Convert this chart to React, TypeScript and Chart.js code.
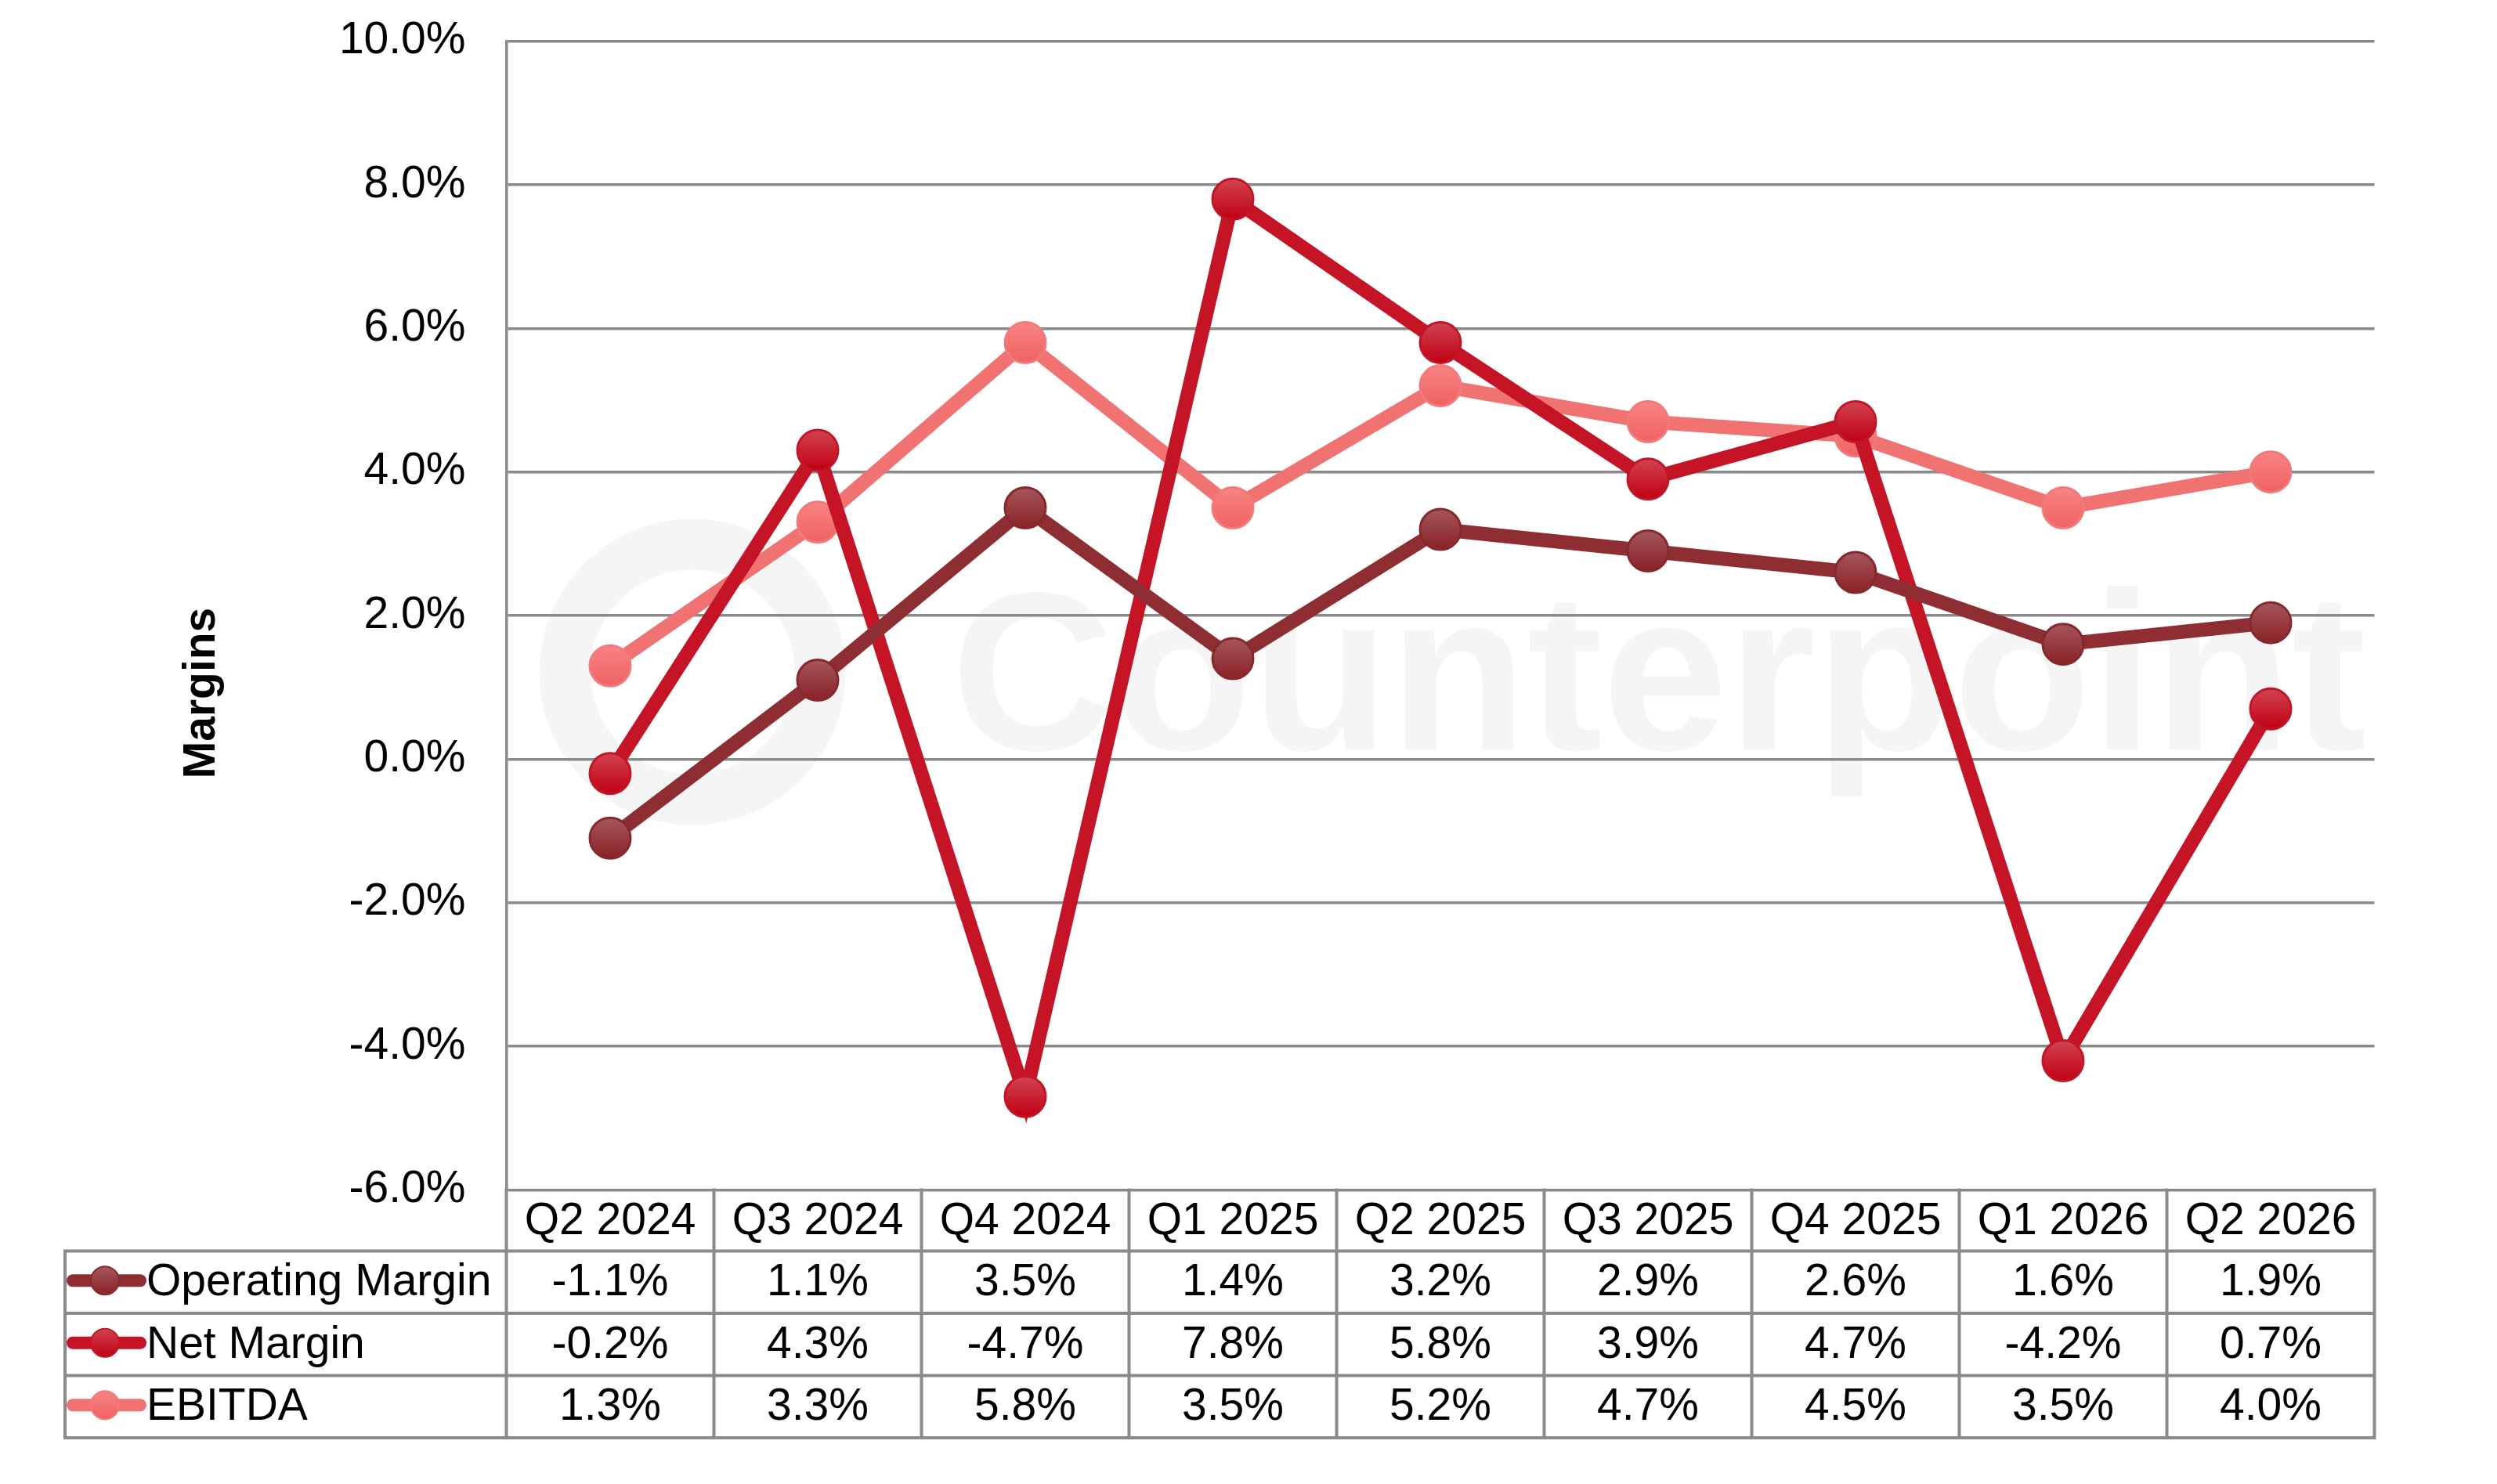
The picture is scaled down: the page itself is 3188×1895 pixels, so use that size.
import { useEffect, useRef } from "react";
import { Chart, ChartConfiguration, Plugin, registerables } from "chart.js";

Chart.register(...registerables);

const quarters = ["Q2 2024", "Q3 2024", "Q4 2024", "Q1 2025", "Q2 2025", "Q3 2025", "Q4 2025", "Q1 2026", "Q2 2026"];
const operatingMargin = [-1.1, 1.1, 3.5, 1.4, 3.2, 2.9, 2.6, 1.6, 1.9];
const netMargin = [-0.2, 4.3, -4.7, 7.8, 5.8, 3.9, 4.7, -4.2, 0.7];
const ebitda = [1.3, 3.3, 5.8, 3.5, 5.2, 4.7, 4.5, 3.5, 4.0];

const seriesNames = ["Operating Margin", "Net Margin", "EBITDA"];
const yMin = -6;
const yMax = 10;
const yStep = 2;

const FONT = "'Liberation Sans', Arial, Helvetica, sans-serif";
const GRID = "#8a8a8a";

// line colour, marker top, marker bottom, marker border
const palette = [
  { line: "#8e2e33", top: "#a4575c", bottom: "#8a2126", border: "#86292e" },
  { line: "#c41426", top: "#d24350", bottom: "#bf0014", border: "#c01628" },
  { line: "#f07271", top: "#f88383", bottom: "#f06262", border: "#f17a7a" },
];

const POINT_R = 26;

function markerFill(c: CanvasRenderingContext2D, y: number, r: number, p: (typeof palette)[number]) {
  if (!Number.isFinite(y)) return p.bottom;
  const g = c.createLinearGradient(0, y - r, 0, y + r);
  g.addColorStop(0, p.top);
  g.addColorStop(1, p.bottom);
  return g;
}

const watermark: Plugin<"line"> = {
  id: "watermark",
  beforeDraw(chart) {
    const c = chart.ctx;
    c.save();
    c.strokeStyle = "#f5f5f5";
    c.lineWidth = 65;
    c.beginPath();
    c.arc(884, 858, 163, 0, Math.PI * 2);
    c.stroke();
    c.fillStyle = "#f5f5f5";
    c.font = `bold 288px ${FONT}`;
    c.textAlign = "left";
    c.textBaseline = "alphabetic";
    c.fillText("Counterpoint", 1214, 957);
    c.restore();
  },
};

const dataTable: Plugin<"line"> = {
  id: "dataTable",
  afterDraw(chart) {
    const c = chart.ctx;
    const x = chart.scales.x;
    const area = chart.chartArea;
    const rowH = 79.5;
    const tableLeft = 83;
    const top = area.bottom;
    const rowsTop = top + 78;
    const bottom = rowsTop + rowH * seriesNames.length;
    const colW = (area.right - area.left) / quarters.length;

    c.save();
    c.strokeStyle = GRID;
    c.lineWidth = 4;
    c.lineCap = "square";
    // horizontal lines
    c.beginPath();
    for (let r = 0; r <= seriesNames.length; r++) {
      const y = rowsTop + r * rowH;
      c.moveTo(tableLeft, y);
      c.lineTo(area.right, y);
    }
    // vertical lines
    c.moveTo(tableLeft, rowsTop);
    c.lineTo(tableLeft, bottom);
    for (let i = 0; i <= quarters.length; i++) {
      const xx = area.left + i * colW;
      c.moveTo(xx, top);
      c.lineTo(xx, bottom);
    }
    c.stroke();

    c.fillStyle = "#000";
    c.font = `57px ${FONT}`;
    c.textAlign = "center";
    c.textBaseline = "alphabetic";
    quarters.forEach((q, i) => {
      c.fillText(q, x.getPixelForValue(i), (top + rowsTop) / 2 + 17);
    });

    chart.data.datasets.forEach((ds, r) => {
      const cy = rowsTop + r * rowH + rowH / 2;
      const p = palette[r];
      // legend key
      c.strokeStyle = p.line;
      c.lineWidth = 16;
      c.lineCap = "round";
      c.beginPath();
      c.moveTo(93, cy - 2);
      c.lineTo(179, cy - 2);
      c.stroke();
      c.beginPath();
      c.arc(134, cy - 2, 18, 0, Math.PI * 2);
      c.fillStyle = markerFill(c, cy - 2, 18, p);
      c.fill();
      c.lineWidth = 2;
      c.strokeStyle = p.border;
      c.stroke();

      c.fillStyle = "#000";
      c.textAlign = "left";
      c.fillText(String(ds.label), 187, cy + 17);
      c.textAlign = "center";
      (ds.data as number[]).forEach((v, i) => {
        c.fillText(`${v.toFixed(1)}%`, x.getPixelForValue(i), cy + 17);
      });
    });

    // y axis title
    c.translate(258, 885);
    c.rotate(-Math.PI / 2);
    c.font = `bold 57px ${FONT}`;
    c.textAlign = "center";
    c.textBaseline = "middle";
    c.fillText("Margins", 0, 0);
    c.restore();
  },
};

export default function App() {
  const canvasRef = useRef<HTMLCanvasElement>(null);
  const chartRef = useRef<Chart<"line"> | null>(null);

  useEffect(() => {
    if (!canvasRef.current) return;
    if (chartRef.current) chartRef.current.destroy();

    const series = [operatingMargin, netMargin, ebitda];

    const config: ChartConfiguration<"line"> = {
      type: "line",
      data: {
        labels: quarters,
        datasets: series.map((d, k) => ({
          label: seriesNames[k],
          data: d,
          borderColor: palette[k].line,
          borderWidth: 18,
          pointRadius: POINT_R,
          pointHoverRadius: POINT_R,
          pointBorderWidth: 3,
          pointBorderColor: palette[k].border,
          pointBackgroundColor: (ctx: any) => {
            const ch = ctx.chart;
            if (!ch.scales?.y || !ctx.parsed) return palette[k].bottom;
            const y = ch.scales.y.getPixelForValue(ctx.parsed.y);
            return markerFill(ch.ctx, y, POINT_R, palette[k]);
          },
          tension: 0,
        })),
      },
      options: {
        responsive: false,
        animation: false,
        devicePixelRatio: 1,
        layout: { padding: { left: 0, top: 52.5, right: 156.5, bottom: 375.5 } },
        plugins: {
          legend: { display: false },
          tooltip: { enabled: false },
        },
        scales: {
          x: {
            type: "category",
            display: false,
            offset: true,
          },
          y: {
            min: yMin,
            max: yMax,
            afterFit: (scale) => {
              scale.width = 646.5;
            },
            ticks: {
              stepSize: yStep,
              padding: 0,
              color: "#000",
              font: { family: FONT, size: 57 },
              callback: (v) => `${Number(v).toFixed(1)}%`,
            },
            // invisible tick marks push the labels away from the axis
            grid: { color: GRID, lineWidth: 3.5, drawTicks: true, tickLength: 52, tickColor: "rgba(0,0,0,0)" },
            border: { display: true, color: GRID, width: 3.5 },
          },
        },
      },
      plugins: [watermark, dataTable],
    };

    chartRef.current = new Chart(canvasRef.current, config);

    return () => {
      if (chartRef.current) {
        chartRef.current.destroy();
        chartRef.current = null;
      }
    };
  }, []);

  return (
    <div style={{ position: "absolute", left: 0, top: 0, width: 3188, height: 1895, background: "#fff" }}>
      <canvas ref={canvasRef} width={3188} height={1895} style={{ width: 3188, height: 1895 }} />
    </div>
  );
}
